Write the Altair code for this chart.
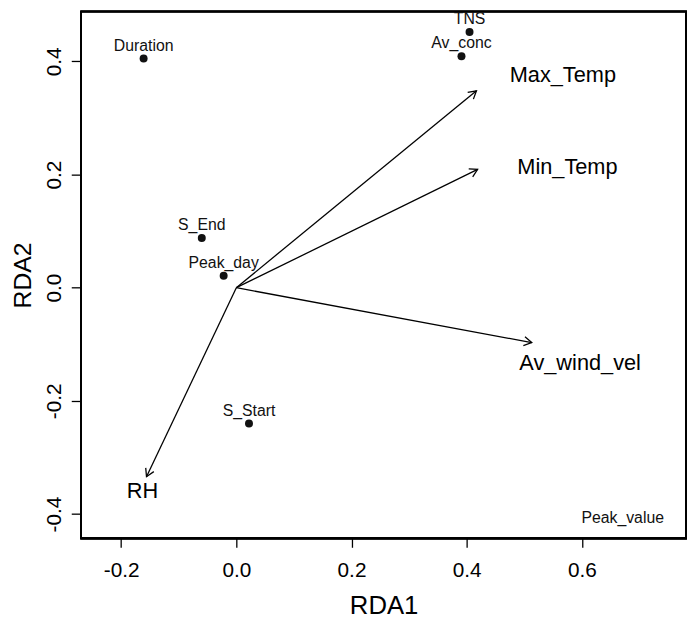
import math
import altair as alt
import pandas as pd

# ---- data ----
species_names = ["Duration", "TNS", "Av_conc", "S_End", "Peak_day", "S_Start", "Peak_value"]
species_x = [-0.161, 0.405, 0.391, -0.060, -0.022, 0.022, 0.671]
species_y = [0.405, 0.452, 0.409, 0.088, 0.021, -0.240, -0.429]
species_point_shown = [True, True, True, True, True, True, False]

env_names = ["Max_Temp", "Min_Temp", "Av_wind_vel", "RH"]
env_x = [0.417, 0.419, 0.513, -0.156]
env_y = [0.348, 0.209, -0.097, -0.334]
env_label_x = [0.567, 0.575, 0.597, -0.163]
env_label_y = [0.376, 0.214, -0.134, -0.360]

x_ticks = [-0.2, 0.0, 0.2, 0.4, 0.6]
y_ticks = [-0.4, -0.2, 0.0, 0.2, 0.4]
x_domain = [-0.2695, 0.781]
y_domain = [-0.443, 0.488]

FONT = "Liberation Sans"
W, H = 612, 533

species = pd.DataFrame({"name": species_names, "x": species_x, "y": species_y,
                        "shown": species_point_shown})
env = pd.DataFrame({"name": env_names, "x": env_x, "y": env_y,
                    "lx": env_label_x, "ly": env_label_y})
env["x0"] = 0.0
env["y0"] = 0.0
env["angle"] = [(math.degrees(math.atan2(a, b)) + 360) % 360 for a, b in zip(env_x, env_y)]

label_expr = "(datum.value < 0 ? '-' : '') + format(abs(datum.value), '.1f')"

xs = alt.Scale(domain=x_domain, nice=False, zero=False)
ys = alt.Scale(domain=y_domain, nice=False, zero=False)

xaxis = alt.Axis(values=x_ticks, labelExpr=label_expr, grid=False, domain=False,
                 tickSize=9, tickColor="black", tickWidth=1.3,
                 labelFontSize=21, labelColor="black", labelFont=FONT, labelPadding=13,
                 title="RDA1", titleFontSize=26, titleFont=FONT, titleFontWeight="normal",
                 titleColor="black", titleY=55, titleBaseline="top")
yaxis = alt.Axis(values=y_ticks, labelExpr=label_expr, grid=False, domain=False,
                 tickSize=10, tickColor="black", tickWidth=1.3,
                 labelFontSize=21, labelColor="black", labelFont=FONT, labelPadding=7,
                 labelAngle=270, labelAlign="center", labelBaseline="bottom",
                 title="RDA2", titleFontSize=25, titleFont=FONT, titleFontWeight="normal",
                 titleColor="black", titleAngle=270, titleBaseline="bottom", titleX=-46)

base_x = alt.X("x:Q", scale=xs, axis=xaxis)
base_y = alt.Y("y:Q", scale=ys, axis=yaxis)

frame = alt.Chart(species).mark_rect(
    fill="transparent", stroke="black", strokeWidth=1.6
).encode(x=alt.value(0), x2=alt.value(W), y=alt.value(0), y2=alt.value(H))

points = alt.Chart(species).transform_filter("datum.shown").mark_circle(
    size=65, color="#111111", opacity=1
).encode(x=base_x, y=base_y)

species_text = alt.Chart(species).mark_text(
    dy=-13, fontSize=16, font=FONT, color="#111111", baseline="middle", align="center"
).encode(x=alt.X("x:Q", scale=xs), y=alt.Y("y:Q", scale=ys), text="name:N")

shafts = alt.Chart(env).mark_rule(color="black", strokeWidth=1.3).encode(
    x=alt.X("x0:Q", scale=xs), y=alt.Y("y0:Q", scale=ys), x2="x:Q", y2="y:Q"
)

heads = alt.Chart(env).mark_point(
    shape="M -0.5 0.866 L 0 0 L 0.5 0.866", filled=False, color="black",
    strokeWidth=1.3, size=324, opacity=1
).encode(x=alt.X("x:Q", scale=xs), y=alt.Y("y:Q", scale=ys),
         angle=alt.Angle("angle:Q", scale=None))

env_text = alt.Chart(env).mark_text(
    fontSize=22, font=FONT, color="black", baseline="middle", align="center"
).encode(x=alt.X("lx:Q", scale=xs), y=alt.Y("ly:Q", scale=ys), text="name:N")

chart = alt.layer(frame, points, species_text, shafts, heads, env_text).properties(
    width=W, height=H,
    background="white",
    autosize=alt.AutoSizeParams(type="none"),
    padding={"left": 74, "top": 0, "right": 5, "bottom": 81},
).configure_view(stroke=None)

chart.save("out.html", embed_options={"renderer": "svg", "actions": False})
